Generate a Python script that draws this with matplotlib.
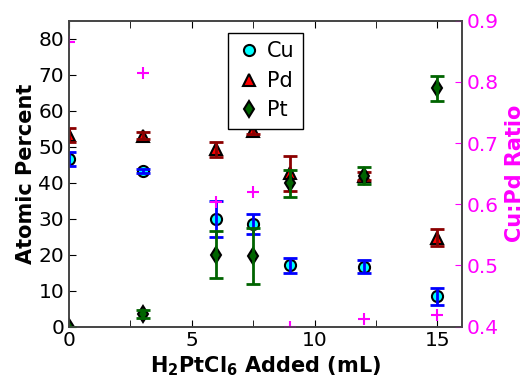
import matplotlib
matplotlib.use("Agg")
import matplotlib.pyplot as plt
from matplotlib.ticker import MultipleLocator

x = [0, 3, 6, 7.5, 9, 12, 15]
cu = [46.5, 43.3, 29.8, 28.6, 17.0, 16.7, 8.4]
cu_err = [2.0, 0.6, 5.0, 2.8, 2.0, 1.7, 2.3]
pd = [53.3, 53.0, 49.3, 54.4, 42.6, 41.8, 24.7]
pd_err = [2.0, 1.0, 2.1, 0.8, 4.8, 1.2, 2.3]
pt = [0.0, 3.5, 20.0, 19.6, 39.8, 41.9, 66.2]
pt_err = [0.0, 1.0, 6.6, 7.7, 3.7, 2.4, 3.4]
ratio = [0.865, 0.814, 0.603, 0.620, 0.400, 0.412, 0.419]

plt.rcParams['font.family'] = ['DejaVu Sans']
fig = plt.figure(figsize=(5.24, 3.79), dpi=100)
ax = fig.add_axes([0.1317, 0.138, 0.75, 0.8076])
ax2 = ax.twinx()

series = [
    ("Cu", cu, cu_err, 'o', 'cyan', 'blue'),
    ("Pd", pd, pd_err, '^', 'red', '#8b0000'),
    ("Pt", pt, pt_err, 'd', '#006400', '#006400'),
]
for i, (lab, y, e, m, fc, ec) in enumerate(series):
    ax.plot(x, y, linestyle='none', marker=m, markersize=8, markerfacecolor=fc,
            markeredgecolor='black', markeredgewidth=1.5, label=lab, zorder=2 + 2 * i)
    ax.errorbar(x, y, yerr=e, fmt='none', ecolor=ec, elinewidth=2, capsize=5,
                capthick=2, zorder=3 + 2 * i)

ax2.plot(x, ratio, linestyle='none', marker='+', markersize=9, markeredgewidth=1.5,
         color='magenta')

ax.set_xlim(0, 16)
ax.set_ylim(0, 85)
ax2.set_ylim(0.4, 0.9)
ax.xaxis.set_major_locator(MultipleLocator(5))
ax.xaxis.set_minor_locator(MultipleLocator(2.5))
ax.yaxis.set_major_locator(MultipleLocator(10))
ax2.yaxis.set_major_locator(MultipleLocator(0.1))

ax.tick_params(axis='x', which='both', direction='in', top=True, length=5, labelsize=14.5, pad=3)
ax.tick_params(axis='y', direction='in', right=False, length=5, labelsize=14.5)
ax2.tick_params(axis='y', direction='in', length=5, colors='magenta', labelsize=14.5)

for a in (ax, ax2):
    for s in a.spines.values():
        s.set_color('#444444')
        s.set_linewidth(1.2)

ax.set_xlabel(r"H$_\mathbf{2}$PtCl$_\mathbf{6}$ Added (mL)", fontsize=15, fontweight='bold', labelpad=3)
ax.set_ylabel("Atomic Percent", fontsize=15, fontweight='bold', labelpad=2)
ax2.set_ylabel("Cu:Pd Ratio", fontsize=15, fontweight='bold', color='magenta', labelpad=4)

leg = ax.legend(loc='upper center', numpoints=1, fontsize=15, fancybox=False,
                framealpha=1, edgecolor='black', handletextpad=0.3,
                borderaxespad=0.6, labelspacing=0.45, handlelength=1.2)
leg.get_frame().set_linewidth(1.0)
leg.set_zorder(10)

fig.savefig("out.png", dpi=100)
